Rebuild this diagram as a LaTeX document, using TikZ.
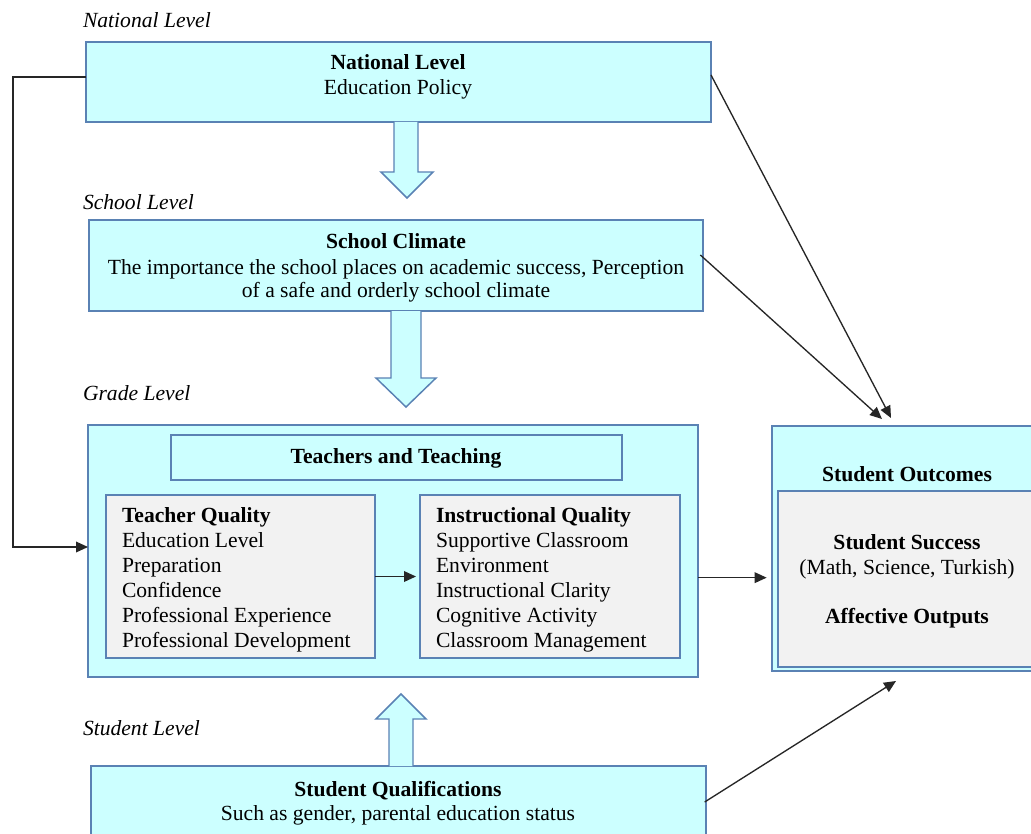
\documentclass[tikz,border=0pt]{standalone}
\usepackage{fontspec}
\setmainfont{Liberation Serif}
\usetikzlibrary{arrows.meta,calc}
\definecolor{bxfill}{HTML}{CCFFFF}
\definecolor{bxline}{HTML}{5A82B4}
\definecolor{gfill}{HTML}{F2F2F2}
\tikzset{
  px/.style={x=0.75pt,y=-0.75pt},
  bx/.style={draw=bxline,fill=bxfill,line width=1.1pt,inner sep=0pt,outer sep=0pt,anchor=north west},
  gbx/.style={bx,fill=gfill},
  txt/.style={inner sep=0pt,outer sep=0pt,font=\fontsize{16.2}{18.75}\selectfont},
  lvl/.style={txt,anchor=base west,font=\fontsize{16.2}{18.75}\selectfont\itshape},
  arr/.style={draw=black!85,line width=1pt,-{Triangle[length=9pt,width=8pt]}},
  blk/.style={draw=bxline,fill=bxfill,line width=1.1pt,line join=miter}
}
\begin{document}
\begin{tikzpicture}[px]
\clip (0,0) rectangle (1031,834);
\fill[white] (0,0) rectangle (1031,834);
% boxes
\node[bx,minimum width=625*0.75pt,minimum height=80*0.75pt] (nat) at (86,42) {};
\node[bx,minimum width=614*0.75pt,minimum height=91*0.75pt] (sch) at (89,220) {};
\node[bx,minimum width=610*0.75pt,minimum height=252*0.75pt] (grd) at (88,425) {};
\node[bx,minimum width=451*0.75pt,minimum height=45*0.75pt] (tt) at (171,435) {};
\node[gbx,minimum width=269*0.75pt,minimum height=163*0.75pt] (tq) at (106,495) {};
\node[gbx,minimum width=260*0.75pt,minimum height=163*0.75pt] (iq) at (420,495) {};
\node[bx,minimum width=270*0.75pt,minimum height=245*0.75pt] (out) at (772,426) {};
\node[gbx,minimum width=262*0.75pt,minimum height=176*0.75pt] (outin) at (778,491) {};
\node[bx,minimum width=615*0.75pt,minimum height=90*0.75pt] (stu) at (91,766) {};
% block arrows
\draw[blk] (394,122) -- (394,172) -- (381,172) -- (407,198) -- (433,172) -- (418,172) -- (418,122);
\draw[blk] (391,311) -- (391,378) -- (376,378) -- (406,407) -- (436,378) -- (421,378) -- (421,311);
\draw[blk] (389,766) -- (389,719) -- (376,719) -- (401,694) -- (426,719) -- (413,719) -- (413,766);
% level labels
\node[lvl] (lnat) at (83,28) {National Level};
\node[lvl] (lsch) at (83,210) {School Level};
\node[lvl] (lgrd) at (83,400) {Grade Level};
\node[lvl] (lstu) at (83,735) {Student Level};
% box texts (anchor base = baseline of last line)
\node[txt,anchor=base,align=center] (tnat) at (398,95) {\textbf{National Level}\\Education Policy};
\node[txt,anchor=base,align=center] (tsch) at (396,297) {\textbf{School Climate}\\[1pt]The importance the school places on academic success, Perception\\[-2pt]of a safe and orderly school climate};
\node[txt,anchor=base] (ttt) at (396,463) {\textbf{Teachers and Teaching}};
\node[txt,anchor=base west,align=left] (ttq) at (122,647) {\textbf{Teacher Quality}\\Education Level\\Preparation\\Confidence\\Professional Experience\\Professional Development};
\node[txt,anchor=base west,align=left] (tiq) at (436,647) {\textbf{Instructional Quality}\\Supportive Classroom\\Environment\\Instructional Clarity\\Cognitive Activity\\Classroom Management};
\node[txt,anchor=base] (tout) at (907,481) {\textbf{Student Outcomes}};
\node[txt,anchor=base,align=center] (tsuc) at (907,623) {\textbf{Student Success}\\(Math, Science, Turkish)\\[18pt]\textbf{Affective Outputs}};
\node[txt,anchor=base,align=center] (tstu) at (398,820) {\textbf{Student Qualifications}\\[-1pt]Such as gender, parental education status};
% connectors
\coordinate (o1) at (891,418);
\coordinate (o2) at (882,419);
\coordinate (o3) at (896,681);
\coordinate (lc) at (13,77);
\draw[arr] ([yshift=3.75pt]nat.west) -- (lc) |- ([yshift=3pt]grd.west);
\draw[arr] ([yshift=5.25pt]nat.east) -- (o1);
\draw[arr] ([yshift=7.9pt,xshift=-2pt]sch.east) -- (o2);
\draw[arr] ([yshift=-27pt,xshift=-1pt]stu.north east) -- (o3);
\draw[arr,shorten >=3pt] (tq.east) -- (iq.west);
\draw[arr,shorten >=4pt] ([yshift=-20pt]grd.east) -- ([yshift=-20pt]grd.east -| out.west);
\end{tikzpicture}
\end{document}
